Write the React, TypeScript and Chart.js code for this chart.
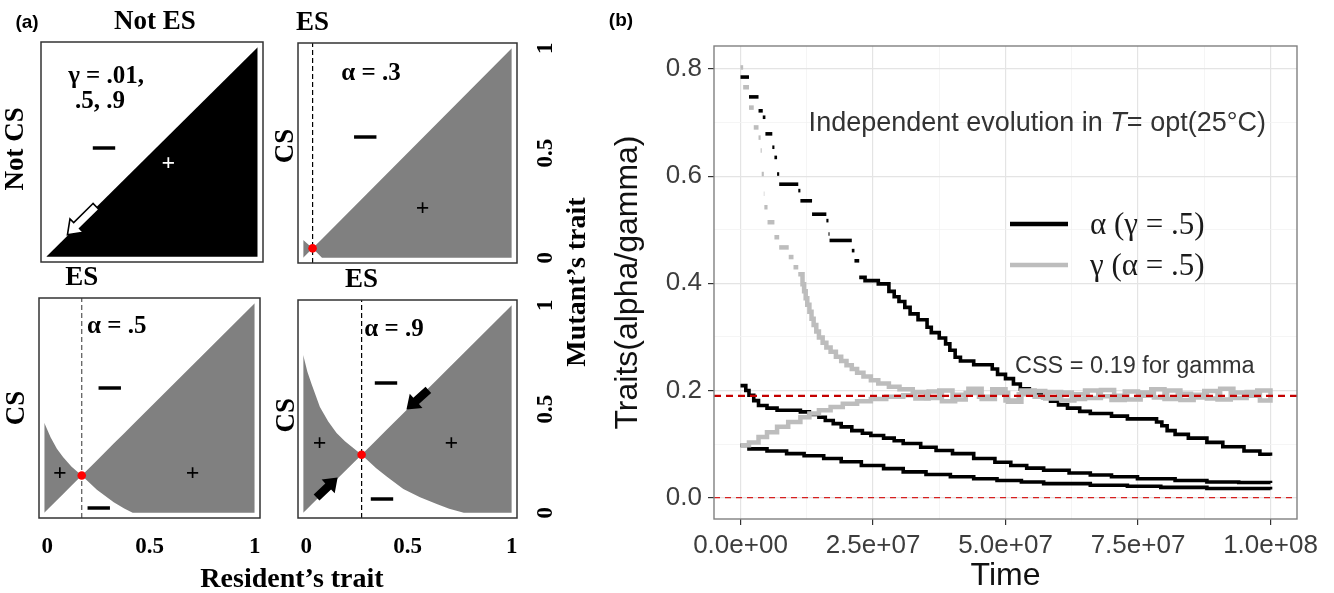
import React, { useEffect, useRef } from "react";
import { Chart, registerables } from "chart.js";

Chart.register(...registerables);

const SANS = '"Liberation Sans", Arial, sans-serif';
const SERIF = '"Liberation Serif", "Times New Roman", serif';

// ================= Panel (a): pairwise invasibility plots =================
const pipTitles = ["Not ES", "ES", "ES", "ES"];
const pipSideLabels = ["Not CS", "CS", "CS", "CS"];
const pipSingular: (number | null)[] = [null, 0.045, 0.178, 0.28];
// boundary curve (resident, mutant); the other boundary is the diagonal
const pipCurve1 = [[0, 0], [1, 0]];
const pipCurve2 = [[0, 0.085], [0.045, 0.045], [0.09, 0], [1, 0]];
const pipCurve3 = [[0, 0.43], [0.03, 0.36], [0.06, 0.305], [0.09, 0.265], [0.13, 0.22], [0.178, 0.178], [0.25, 0.11], [0.33, 0.05], [0.38, 0.02], [0.42, 0], [1, 0]];
const pipCurve4 = [[0, 0.76], [0.02, 0.68], [0.04, 0.62], [0.08, 0.51], [0.12, 0.44], [0.16, 0.385], [0.2, 0.345], [0.28, 0.28], [0.35, 0.215], [0.4, 0.175], [0.48, 0.115], [0.56, 0.075], [0.64, 0.043], [0.7, 0.02], [0.77, 0], [1, 0]];
const pipCurves = [pipCurve1, pipCurve2, pipCurve3, pipCurve4];
const pipTickValues = [0, 0.5, 1];
const pipTickLabels = ["0", "0.5", "1"];
const residentTitle = "Resident’s trait";
const mutantTitle = "Mutant’s trait";

// texts inside each plot (data coordinates)
type Mark = { s: string; x: number; y: number; kind?: "minus" | "plus"; color?: string };
const pipMarks: Mark[][] = [
  [
    { s: "γ = .01,", x: 0.283, y: 0.862 },
    { s: ".5, .9", x: 0.254, y: 0.743 },
    { s: "—", x: 0.273, y: 0.525, kind: "minus" },
    { s: "+", x: 0.577, y: 0.444, kind: "plus", color: "#ffffff" },
  ],
  [
    { s: "α = .3", x: 0.325, y: 0.88 },
    { s: "—", x: 0.297, y: 0.582, kind: "minus" },
    { s: "+", x: 0.572, y: 0.235, kind: "plus" },
  ],
  [
    { s: "α = .5", x: 0.344, y: 0.89 },
    { s: "—", x: 0.311, y: 0.601, kind: "minus" },
    { s: "+", x: 0.074, y: 0.188, kind: "plus" },
    { s: "+", x: 0.705, y: 0.188, kind: "plus" },
    { s: "—", x: 0.259, y: 0.028, kind: "minus" },
  ],
  [
    { s: "α = .9", x: 0.435, y: 0.881 },
    { s: "—", x: 0.397, y: 0.629, kind: "minus" },
    { s: "+", x: 0.078, y: 0.33, kind: "plus" },
    { s: "+", x: 0.71, y: 0.33, kind: "plus" },
    { s: "—", x: 0.378, y: 0.069, kind: "minus" },
  ],
];
const pipArrows = [
  [{ from: [0.235, 0.24], to: [0.1, 0.105], fill: "#ffffff", stroke: "#000000" }],
  [],
  [],
  [
    { from: [0.6, 0.592], to: [0.495, 0.497], fill: "#000000", stroke: "" },
    { from: [0.064, 0.074], to: [0.165, 0.17], fill: "#000000", stroke: "" },
  ],
];

// layout of the four plots (page pixels)
const pipBoxes = [
  { l: 41, t: 42, r: 263, b: 262, side: 25, sideY: 0.515, dash: "#000" },
  { l: 298, t: 43, r: 517, b: 263, side: 12, sideY: 0.534, dash: "#000" },
  { l: 39, t: 298, r: 260, b: 518, side: 22, sideY: 0.5, dash: "#555" },
  { l: 298, t: 300, r: 517, b: 518, side: 11, sideY: 0.47, dash: "#000" },
];
const PANEL_A_W = 600;
const PANEL_H = 593;

// ================= Panel (b): trait evolution =================
// time in units of 1e7
const alphaFrom08 = [[0, 0.785], [0.16, 0.748], [0.34, 0.722], [0.42, 0.71], [0.47, 0.679], [0.6, 0.654], [0.64, 0.635], [0.69, 0.604], [0.73, 0.585], [1.09, 0.573], [1.13, 0.554], [1.35, 0.529], [1.62, 0.517], [1.66, 0.492], [1.68, 0.48], [2.1, 0.461], [2.15, 0.442], [2.24, 0.411], [2.35, 0.405], [2.6, 0.399], [2.8, 0.385], [2.9, 0.375], [2.99, 0.366], [3.1, 0.355], [3.2, 0.343], [3.35, 0.332], [3.52, 0.318], [3.6, 0.308], [3.75, 0.298], [3.87, 0.287], [3.95, 0.275], [4.05, 0.262], [4.15, 0.255], [4.4, 0.248], [4.75, 0.24], [4.85, 0.23], [5.0, 0.222], [5.15, 0.212], [5.28, 0.203], [5.45, 0.195], [5.7, 0.187], [5.85, 0.18], [6.0, 0.173], [6.17, 0.167], [6.4, 0.161], [6.6, 0.157], [7.0, 0.152], [7.3, 0.147], [7.85, 0.141], [7.95, 0.134], [8.05, 0.125], [8.2, 0.118], [8.45, 0.111], [8.8, 0.103], [9.1, 0.095], [9.5, 0.087], [9.8, 0.081], [10.0, 0.078]];
const alphaFrom021 = [[0, 0.209], [0.1, 0.2], [0.16, 0.191], [0.25, 0.181], [0.34, 0.172], [0.5, 0.167], [0.69, 0.163], [1.13, 0.16], [1.3, 0.155], [1.48, 0.15], [1.6, 0.144], [1.75, 0.138], [1.9, 0.132], [2.1, 0.125], [2.3, 0.12], [2.46, 0.116], [2.7, 0.111], [2.9, 0.106], [3.07, 0.101], [3.4, 0.094], [3.69, 0.088], [4.0, 0.082], [4.4, 0.073], [4.8, 0.066], [5.1, 0.06], [5.4, 0.055], [5.72, 0.051], [6.2, 0.046], [6.6, 0.042], [7.0, 0.039], [7.49, 0.035], [8.2, 0.032], [8.8, 0.029], [9.4, 0.028], [10.0, 0.027]];
const alphaFrom01 = [[0, 0.0975], [0.16, 0.091], [0.5, 0.087], [0.87, 0.082], [1.2, 0.078], [1.57, 0.073], [1.9, 0.067], [2.28, 0.06], [2.7, 0.054], [3.07, 0.048], [3.5, 0.043], [3.96, 0.039], [4.4, 0.035], [4.84, 0.032], [5.3, 0.029], [5.72, 0.026], [6.6, 0.023], [7.3, 0.021], [7.93, 0.019], [8.8, 0.017], [10.0, 0.015]];
const gammaFrom08 = [[0, 0.803], [0.05, 0.766], [0.16, 0.728], [0.25, 0.691], [0.34, 0.672], [0.38, 0.648], [0.4, 0.604], [0.44, 0.567], [0.45, 0.542], [0.51, 0.514], [0.64, 0.486], [0.73, 0.467], [0.91, 0.449], [1.0, 0.43], [1.09, 0.417], [1.17, 0.398], [1.2, 0.385], [1.23, 0.372], [1.26, 0.36], [1.3, 0.347], [1.34, 0.334], [1.38, 0.322], [1.43, 0.31], [1.48, 0.299], [1.55, 0.289], [1.62, 0.28], [1.7, 0.272], [1.8, 0.263], [1.9, 0.255], [2.0, 0.247], [2.1, 0.24], [2.2, 0.233], [2.32, 0.226], [2.46, 0.219], [2.6, 0.213], [2.8, 0.207], [3.0, 0.202], [3.25, 0.197], [3.5, 0.186], [3.75, 0.2], [4.0, 0.183], [4.25, 0.195], [4.5, 0.188], [4.75, 0.202], [5.0, 0.181], [5.25, 0.193], [5.5, 0.199], [5.75, 0.185], [6.0, 0.196], [6.25, 0.184], [6.5, 0.2], [6.75, 0.189], [7.0, 0.182], [7.25, 0.198], [7.5, 0.19], [7.75, 0.202], [8.0, 0.184], [8.25, 0.194], [8.5, 0.187], [8.75, 0.199], [9.0, 0.183], [9.25, 0.196], [9.5, 0.19], [9.75, 0.2], [10.0, 0.186]];
const gammaFrom01 = [[0, 0.0975], [0.16, 0.103], [0.34, 0.113], [0.5, 0.122], [0.69, 0.132], [0.9, 0.141], [1.13, 0.15], [1.3, 0.157], [1.48, 0.163], [1.7, 0.169], [1.93, 0.175], [2.2, 0.18], [2.46, 0.184], [2.75, 0.188], [3.07, 0.191], [3.3, 0.185], [3.55, 0.198], [3.8, 0.18], [4.05, 0.192], [4.3, 0.203], [4.55, 0.184], [4.8, 0.195], [5.05, 0.179], [5.3, 0.2], [5.55, 0.188], [5.8, 0.197], [6.05, 0.181], [6.3, 0.193], [6.55, 0.186], [6.8, 0.201], [7.05, 0.19], [7.3, 0.183], [7.55, 0.196], [7.8, 0.187], [8.05, 0.2], [8.3, 0.182], [8.55, 0.192], [8.8, 0.185], [9.05, 0.203], [9.3, 0.186], [9.55, 0.197], [9.8, 0.181], [10.0, 0.193]];
const cssGamma = 0.19;
const timeTicks = [0, 2.5e7, 5e7, 7.5e7, 1e8];
const timeTickLabels = ["0.0e+00", "2.5e+07", "5.0e+07", "7.5e+07", "1.0e+08"];
const timeMinorTicks = [1.25e7, 3.75e7, 6.25e7, 8.75e7];
const traitTicks = [0, 0.2, 0.4, 0.6, 0.8];
const traitTickLabels = ["0.0", "0.2", "0.4", "0.6", "0.8"];
const traitMinorTicks = [0.1, 0.3, 0.5, 0.7];
const seriesLabels = ["α (γ = .5)", "γ (α = .5)"];
const headerParts = ["Independent evolution in ", "T", "= opt(25°C)"];
const cssLabel = "CSS = 0.19 for gamma";
const xTitle = "Time";
const yTitle = "Traits(alpha/gamma)";

const ALPHA_COLOR = "#000000";
const GAMMA_COLOR = "#bdbdbd";
const X_MIN = -0.05e8, X_MAX = 1.05e8, Y_MIN = -0.04, Y_MAX = 0.843;

// ================= helpers =================
function drawText(ctx: CanvasRenderingContext2D, s: string, x: number, y: number, font: string, color: string, rot = 0, align: CanvasTextAlign = "center") {
  ctx.save();
  ctx.translate(x, y);
  if (rot) ctx.rotate(rot);
  ctx.font = font;
  ctx.fillStyle = color;
  ctx.textAlign = align;
  ctx.textBaseline = "middle";
  ctx.fillText(s, 0, 0);
  ctx.restore();
}

function drawBlockArrow(ctx: CanvasRenderingContext2D, x1: number, y1: number, x2: number, y2: number, fill: string, stroke: string) {
  const dx = x2 - x1, dy = y2 - y1, len = Math.hypot(dx, dy);
  const ux = dx / len, uy = dy / len, nx = -uy, ny = ux;
  const sw = 4.2, hw = 9.5, hl = Math.min(13, len * 0.45);
  const bx = x2 - ux * hl, by = y2 - uy * hl;
  ctx.beginPath();
  ctx.moveTo(x1 + nx * sw, y1 + ny * sw);
  ctx.lineTo(bx + nx * sw, by + ny * sw);
  ctx.lineTo(bx + nx * hw, by + ny * hw);
  ctx.lineTo(x2, y2);
  ctx.lineTo(bx - nx * hw, by - ny * hw);
  ctx.lineTo(bx - nx * sw, by - ny * sw);
  ctx.lineTo(x1 - nx * sw, y1 - ny * sw);
  ctx.closePath();
  ctx.fillStyle = fill;
  ctx.fill();
  if (stroke) {
    ctx.strokeStyle = stroke;
    ctx.lineWidth = 1.6;
    ctx.lineJoin = "miter";
    ctx.stroke();
  }
}

function makePipPlugin(i: number) {
  return {
    id: "pipDecor" + i,
    afterDraw(chart: any) {
      const ctx: CanvasRenderingContext2D = chart.ctx;
      const a = chart.chartArea;
      const xs = chart.scales.x, ys = chart.scales.y;
      const X = (v: number) => xs.getPixelForValue(v);
      const Y = (v: number) => ys.getPixelForValue(v);
      const box = pipBoxes[i];
      ctx.save();
      for (const ar of pipArrows[i]) {
        drawBlockArrow(ctx, X(ar.from[0]), Y(ar.from[1]), X(ar.to[0]), Y(ar.to[1]), ar.fill, ar.stroke);
      }
      for (const m of pipMarks[i]) {
        const col = m.color || "#000000";
        if (m.kind === "minus") {
          ctx.save();
          ctx.font = `bold 21px ${SANS}`;
          ctx.textAlign = "center";
          ctx.textBaseline = "middle";
          ctx.fillStyle = col;
          ctx.strokeStyle = col;
          ctx.lineWidth = 1.4;
          ctx.fillText(m.s, X(m.x), Y(m.y));
          ctx.strokeText(m.s, X(m.x), Y(m.y));
          ctx.restore();
        } else if (m.kind === "plus") {
          drawText(ctx, m.s, X(m.x), Y(m.y), `bold 24px ${SERIF}`, col);
        } else {
          drawText(ctx, m.s, X(m.x), Y(m.y), `bold 25px ${SERIF}`, col);
        }
      }
      // border
      ctx.strokeStyle = "#333333";
      ctx.lineWidth = 1.5;
      ctx.strokeRect(a.left, a.top, a.right - a.left, a.bottom - a.top);
      // title above
      const ess = pipSingular[i];
      const tx = ess != null ? X(ess) : (a.left + a.right) / 2 + 3;
      drawText(ctx, pipTitles[i], tx, a.top - 20, `bold 27px ${SERIF}`, "#000");
      // side label
      drawText(ctx, pipSideLabels[i], a.left - box.side, Y(box.sideY), `bold 27px ${SERIF}`, "#000", -Math.PI / 2);
      // bottom ticks
      if (i >= 2) {
        pipTickValues.forEach((v, k) => drawText(ctx, pipTickLabels[k], X(v) + (k === 0 ? 3 : 0), a.bottom + 29, `bold 23px ${SERIF}`, "#000"));
      }
      // right ticks
      if (i % 2 === 1) {
        pipTickValues.forEach((v, k) => drawText(ctx, pipTickLabels[k], a.right + 29, Y(v), `bold 23px ${SERIF}`, "#000", -Math.PI / 2));
      }
      if (i === 0) {
        drawText(ctx, "(a)", 27, 23, `bold 19px ${SANS}`, "#000");
        drawText(ctx, residentTitle, 292, 580, `bold 28px ${SERIF}`, "#000");
        drawText(ctx, mutantTitle, 578, 282, `bold 28px ${SERIF}`, "#000", -Math.PI / 2);
      }
      ctx.restore();
    },
  };
}

function buildPip(canvas: HTMLCanvasElement, i: number) {
  const box = pipBoxes[i];
  const curve = pipCurves[i].map(([x, y]) => ({ x, y }));
  const diag = pipCurves[i].map(([x]) => ({ x, y: x }));
  const ess = pipSingular[i];
  const datasets: any[] = [];
  if (ess != null) {
    datasets.push({
      data: [{ x: ess, y: ess }],
      showLine: false,
      pointRadius: 4.3,
      pointBackgroundColor: "#ff0000",
      pointBorderColor: "#ff0000",
      pointBorderWidth: 0,
      borderColor: "#ff0000",
    });
    datasets.push({
      data: [{ x: ess, y: -0.025 }, { x: ess, y: 1.025 }],
      borderColor: box.dash,
      borderDash: [5, 3],
      borderWidth: 1.2,
      pointRadius: 0,
      fill: false,
    });
  }
  datasets.push({
    data: curve,
    borderColor: "rgba(0,0,0,0)",
    borderWidth: 0,
    pointRadius: 0,
    fill: "+1",
    backgroundColor: i === 0 ? "#000000" : "#808080",
  });
  datasets.push({
    data: diag,
    borderColor: "rgba(0,0,0,0)",
    borderWidth: 0,
    pointRadius: 0,
    fill: false,
  });
  return new Chart(canvas, {
    type: "line",
    data: { datasets },
    options: {
      animation: false,
      responsive: true,
      maintainAspectRatio: false,
      events: [],
      layout: { padding: { left: box.l, top: box.t, right: PANEL_A_W - box.r, bottom: PANEL_H - box.b } },
      scales: {
        x: { type: "linear", display: false, min: -0.025, max: 1.025 },
        y: { type: "linear", display: false, min: -0.025, max: 1.025 },
      },
      plugins: { legend: { display: false }, tooltip: { enabled: false }, title: { display: false } },
    } as any,
    plugins: [makePipPlugin(i)],
  });
}

function stepPoints(series: number[][]) {
  const pts: { x: number; y: number }[] = [];
  for (let k = 0; k < series.length; k++) {
    const [t, v] = series[k];
    pts.push({ x: t * 1e7, y: v });
    if (k < series.length - 1) pts.push({ x: series[k + 1][0] * 1e7, y: v });
  }
  return pts;
}

function riserSegment(cutoff: number) {
  return {
    borderColor: (c: any) => {
      const p0 = c.p0.parsed, p1 = c.p1.parsed;
      if (p0.x === p1.x && Math.abs(p0.y - p1.y) > 0.012 && p0.x < cutoff) return "rgba(0,0,0,0)";
      return undefined;
    },
  };
}

const traitsPlugin = {
  id: "traitsDecor",
  afterDraw(chart: any) {
    const ctx: CanvasRenderingContext2D = chart.ctx;
    const a = chart.chartArea;
    const xs = chart.scales.x, ys = chart.scales.y;
    ctx.save();
    ctx.strokeStyle = "#808080";
    ctx.lineWidth = 1.4;
    ctx.strokeRect(a.left, a.top, a.right - a.left, a.bottom - a.top);
    // header
    const f1 = `27px ${SANS}`, f2 = `italic 27px ${SANS}`;
    ctx.font = f1;
    const w1 = ctx.measureText(headerParts[0]).width;
    const w3 = ctx.measureText(headerParts[2]).width;
    ctx.font = f2;
    const w2 = ctx.measureText(headerParts[1]).width;
    const hx = xs.getPixelForValue(5.6e7), hy = ys.getPixelForValue(0.699);
    let sx = hx - (w1 + w2 + w3) / 2;
    drawText(ctx, headerParts[0], sx, hy, f1, "#333", 0, "left");
    sx += w1;
    drawText(ctx, headerParts[1], sx, hy, f2, "#333", 0, "left");
    sx += w2;
    drawText(ctx, headerParts[2], sx, hy, f1, "#333", 0, "left");
    // CSS label
    drawText(ctx, cssLabel, xs.getPixelForValue(7.44e7), ys.getPixelForValue(0.244), `23.5px ${SANS}`, "#333");
    // legend
    const colors = [ALPHA_COLOR, GAMMA_COLOR];
    seriesLabels.forEach((lab, k) => {
      const ly = a.top + 178 + k * 41;
      ctx.strokeStyle = colors[k];
      ctx.lineWidth = 4.5;
      ctx.beginPath();
      ctx.moveTo(a.left + 296, ly);
      ctx.lineTo(a.left + 354, ly);
      ctx.stroke();
      drawText(ctx, lab, a.left + 376, ly + 2, `31px ${SERIF}`, "#1a1a1a", 0, "left");
    });
    drawText(ctx, "(b)", 21, 21, `bold 19px ${SANS}`, "#000");
    ctx.restore();
  },
};

function buildTraits(canvas: HTMLCanvasElement) {
  const hline = (v: number) => [{ x: X_MIN, y: v }, { x: X_MAX, y: v }];
  const datasets: any[] = [
    { data: hline(cssGamma), borderColor: "#c40000", borderDash: [7, 5], borderWidth: 2.2, pointRadius: 0 },
    { data: hline(0), borderColor: "#d62020", borderDash: [6, 5], borderWidth: 1.3, pointRadius: 0 },
    { label: seriesLabels[1], data: stepPoints(gammaFrom08), borderColor: GAMMA_COLOR, borderWidth: 4.5, pointRadius: 0, segment: riserSegment(1.15e7) },
    { label: seriesLabels[1], data: stepPoints(gammaFrom01), borderColor: GAMMA_COLOR, borderWidth: 4.5, pointRadius: 0 },
    { label: seriesLabels[0], data: stepPoints(alphaFrom08), borderColor: ALPHA_COLOR, borderWidth: 3.6, pointRadius: 0, segment: riserSegment(2.3e7) },
    { label: seriesLabels[0], data: stepPoints(alphaFrom021), borderColor: ALPHA_COLOR, borderWidth: 3.6, pointRadius: 0 },
    { label: seriesLabels[0], data: stepPoints(alphaFrom01), borderColor: ALPHA_COLOR, borderWidth: 3.6, pointRadius: 0 },
  ];
  const isMajorX = (v: number) => timeTicks.indexOf(v) >= 0;
  const isMajorY = (v: number) => traitTicks.indexOf(v) >= 0;
  return new Chart(canvas, {
    type: "line",
    data: { datasets },
    options: {
      animation: false,
      responsive: true,
      maintainAspectRatio: false,
      events: [],
      layout: { padding: { left: 0, top: 46, right: 37, bottom: 0 } },
      elements: { line: { tension: 0, borderCapStyle: "butt", borderJoinStyle: "miter" } },
      scales: {
        x: {
          type: "linear",
          min: X_MIN,
          max: X_MAX,
          afterBuildTicks: (s: any) => {
            s.ticks = [...timeTicks, ...timeMinorTicks].sort((p, q) => p - q).map((v) => ({ value: v }));
          },
          afterFit: (s: any) => { s.height = 74; },
          border: { display: false },
          grid: {
            color: (c: any) => (isMajorX(c.tick.value) ? "#e4e4e4" : "#f2f2f2"),
            lineWidth: (c: any) => (isMajorX(c.tick.value) ? 1.2 : 0.8),
            tickColor: (c: any) => (isMajorX(c.tick.value) ? "#333333" : "rgba(0,0,0,0)"),
            tickLength: 6,
            drawTicks: true,
          },
          ticks: {
            autoSkip: false,
            maxRotation: 0,
            minRotation: 0,
            padding: 5,
            color: "#3d3d3d",
            font: { family: SANS, size: 26 },
            callback: (v: any) => {
              const k = timeTicks.indexOf(v);
              return k >= 0 ? timeTickLabels[k] : "";
            },
          },
          title: { display: true, text: xTitle, color: "#111", font: { family: SANS, size: 32, lineHeight: 1 }, padding: { top: 0, bottom: 1 } },
        },
        y: {
          type: "linear",
          min: Y_MIN,
          max: Y_MAX,
          afterBuildTicks: (s: any) => {
            s.ticks = [...traitTicks, ...traitMinorTicks].sort((p, q) => p - q).map((v) => ({ value: v }));
          },
          afterFit: (s: any) => { s.width = 114; },
          border: { display: false },
          grid: {
            color: (c: any) => (isMajorY(c.tick.value) ? "#e4e4e4" : "#f2f2f2"),
            lineWidth: (c: any) => (isMajorY(c.tick.value) ? 1.2 : 0.8),
            tickColor: (c: any) => (isMajorY(c.tick.value) ? "#333333" : "rgba(0,0,0,0)"),
            tickLength: 6,
            drawTicks: true,
          },
          ticks: {
            autoSkip: false,
            padding: 6,
            color: "#3d3d3d",
            font: { family: SANS, size: 26 },
            callback: (v: any) => {
              const k = traitTicks.indexOf(v);
              return k >= 0 ? traitTickLabels[k] : "";
            },
          },
          title: { display: true, text: yTitle, color: "#111", font: { family: SANS, size: 32, lineHeight: 1 }, padding: { top: 12, bottom: 0 } },
        },
      },
      plugins: { legend: { display: false }, tooltip: { enabled: false }, title: { display: false } },
    } as any,
    plugins: [traitsPlugin],
  });
}

function ChartBox(props: { left: number; top: number; width: number; height: number; build: (c: HTMLCanvasElement) => Chart }) {
  const ref = useRef<HTMLCanvasElement>(null);
  useEffect(() => {
    const chart = props.build(ref.current as HTMLCanvasElement);
    return () => chart.destroy();
  }, []);
  return (
    <div style={{ position: "absolute", left: props.left, top: props.top, width: props.width, height: props.height }}>
      <canvas ref={ref} />
    </div>
  );
}

export default function App() {
  return (
    <div style={{ position: "absolute", left: 0, top: 0, width: 1334, height: 593, background: "#ffffff", overflow: "hidden" }}>
      {[0, 1, 2, 3].map((i) => (
        <ChartBox key={i} left={0} top={0} width={PANEL_A_W} height={PANEL_H} build={(c) => buildPip(c, i)} />
      ))}
      <ChartBox left={600} top={0} width={734} height={PANEL_H} build={buildTraits} />
    </div>
  );
}
